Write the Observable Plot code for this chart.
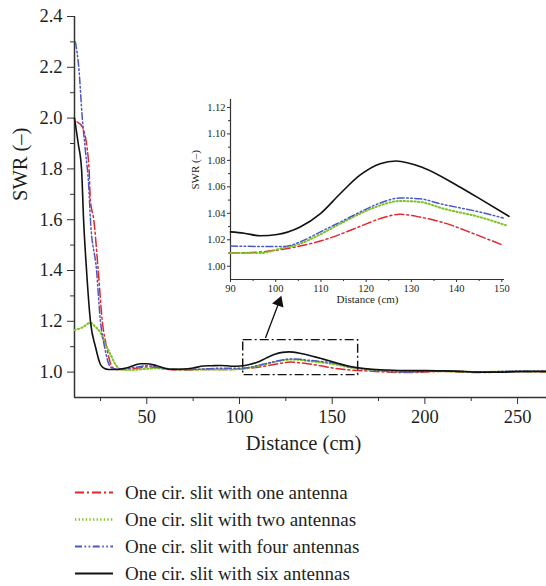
<!DOCTYPE html>
<html><head><meta charset="utf-8">
<script src="https://cdn.jsdelivr.net/npm/d3@7"></script>
<script src="https://cdn.jsdelivr.net/npm/@observablehq/plot@0.6"></script>
<style>
body{margin:0;background:#fff;font-family:"Liberation Serif","Times New Roman","DejaVu Serif",serif;}
#wrap{position:relative;width:546px;height:586px;overflow:hidden;}
#main{position:absolute;left:0;top:0;}
#inset{position:absolute;left:175px;top:90px;}
#legend{position:absolute;left:0;top:479px;}
.row{height:27px;display:flex;align-items:center;font-size:19px;color:#231f20;white-space:nowrap;}
.row svg{flex:none;}
svg text{font-family:"Liberation Serif","Times New Roman","DejaVu Serif",serif;}
</style></head><body>
<div id="wrap"><div id="main"></div><div id="inset"></div><div id="legend"></div></div>
<script>
// ---- data ----
const seriesNames = ["One cir. slit with one antenna","One cir. slit with two antennas","One cir. slit with four antennas","One cir. slit with six antennas"];

const oneX = [12.4,15.2,18.7,19.6,21.4,23.8,26,28.3,31.3,34,40,45,50,55,60,70,80,90,96.6,101,105.4,109.9,114.3,118.7,123.1,127.5,131.9,137.8,143.7,150.3,160,170,180,190,200,210,220,230,240,250,265];
const oneY = [1.985,1.965,1.82,1.675,1.6,1.4,1.2,1.1,1.02,1.01,1.012,1.015,1.02,1.018,1.012,1.008,1.01,1.010,1.0108,1.0126,1.0153,1.0191,1.0242,1.0302,1.036,1.0393,1.0372,1.0322,1.0247,1.0159,1.008,1.004,1.0,0.998,1.0,1.003,1.0,0.998,1.0,1.002,1.0];

const twoX = [11,15,19.6,22,25,27.7,30.4,33.1,35.8,40,45,50,55,60,70,80,90,96.6,101,105.4,109.9,114.3,118.7,123.1,127.5,131.9,137,145.1,150.9,160,170,180,190,200,210,220,230,240,250,265];
const twoY = [1.166,1.175,1.194,1.18,1.155,1.11,1.07,1.03,1.011,1.008,1.01,1.013,1.015,1.013,1.01,1.01,1.010,1.010,1.0133,1.017,1.0242,1.0322,1.0398,1.046,1.0493,1.0486,1.0436,1.0372,1.031,1.018,1.01,1.004,1.002,1.004,1.003,1.002,1.0,1.002,1.003,1.002];

const fourX = [11.5,13.3,15.2,16.9,18.7,19.6,22.9,25,27.2,30.4,34,40,45,50,55,60,70,80,90,96.6,101.8,105.4,109.9,114.3,118.7,123.1,127.5,131.9,136.3,145.1,150.3,160,170,180,190,200,210,220,230,240,250,265];
const fourY = [2.30,2.2,2.0,1.87,1.73,1.6,1.4,1.2,1.1,1.02,1.012,1.015,1.02,1.025,1.02,1.015,1.01,1.012,1.0153,1.015,1.015,1.0184,1.026,1.0334,1.041,1.0478,1.0516,1.051,1.0473,1.041,1.0365,1.02,1.01,1.003,1.0,1.003,1.005,1.002,1.0,1.002,1.004,1.003];

const sixX = [11,13,14.8,15.9,17.5,19.6,22.3,25,27,29.3,32,36,40,46.6,50,55,62.8,70,75,80.6,85,90,93,96.6,100.3,105.4,109.9,114.3,118.7,123.1,126.6,132.6,140.7,145.1,151.6,158,165,170,180,190,200,210,220,230,240,250,265];
const sixY = [2.0,1.9,1.8,1.6,1.4,1.2,1.1,1.03,1.015,1.01,1.01,1.012,1.018,1.033,1.033,1.026,1.011,1.012,1.016,1.024,1.025,1.026,1.025,1.023,1.024,1.0297,1.0398,1.055,1.069,1.0775,1.0795,1.0745,1.0599,1.0511,1.0377,1.025,1.016,1.012,1.008,1.006,1.006,1.005,1.003,1.0,1.0,1.002,1.003];

const xMajor = [50,100,150,200,250];
const xMinor = [25,75,125,175,225];
const yMajor = [1.0,1.2,1.4,1.6,1.8,2.0,2.2,2.4];
const yMinor = [1.1,1.3,1.5,1.7,1.9,2.1,2.3];

const insetXMajor = [90,100,110,120,130,140,150];
const insetXMinor = [95,105,115,125,135,145];
const insetYMajor = [1.00,1.02,1.04,1.06,1.08,1.10,1.12];
const insetYMinor = [1.01,1.03,1.05,1.07,1.09,1.11];

// annotation: zoom box and arrow (data coordinates)
const zoomBox = [{x1:102, x2:164, y1:0.988, y2:1.126}];
const arrowLink = [{x1:114, y1:1.134, x2:121.3, y2:1.275}];

// ---- styles ----
const FONT = "'Liberation Serif', 'Times New Roman', 'DejaVu Serif', serif";
const styles = [
  {color:"#e3262b", dash:"9,3,2,3", width:1.5},
  {color:"#7cc41f", dash:"1.3,2.3", width:2},
  {color:"#4b57c6", dash:"7,2.5,1.6,2.5,1.6,2.5", width:1.5},
  {color:"#111111", dash:null, width:1.6}
];

const seriesData = [[oneX,oneY],[twoX,twoY],[fourX,fourY],[sixX,sixY]].map(([xs,ys],i)=>
  xs.map((x,j)=>({x, y:ys[j], s:seriesNames[i]})));

function lineMarks(filter){
  return seriesData.map((d,i)=>Plot.line(d.filter(filter), {
    x:"x", y:"y", stroke:styles[i].color, strokeWidth:styles[i].width,
    strokeDasharray:styles[i].dash || undefined, curve:"monotone-x"
  }));
}

const axisColor = "#333";
const main = Plot.plot({
  width:546, height:470,
  marginLeft:74, marginRight:0, marginTop:16, marginBottom:73,
  style:{fontFamily:FONT, fontSize:"18px", color:"#231f20", background:"transparent", overflow:"visible"},
  x:{domain:[11,265.6]},
  y:{domain:[0.9,2.4]},
  marks:[
    Plot.axisX(xMajor, {tickSize:7, tickPadding:5, label:null, fontSize:18.5, fontFamily:FONT, stroke:axisColor}),
    Plot.axisX(xMinor, {tickSize:4, tickFormat:()=>"", label:null, stroke:axisColor}),
    Plot.axisY(yMajor, {tickSize:7, tickPadding:5, tickFormat:d3.format(".1f"), label:null, fontSize:18.5, fontFamily:FONT, stroke:axisColor}),
    Plot.axisY(yMinor, {tickSize:4, tickFormat:()=>"", label:null, stroke:axisColor}),
    Plot.ruleX([11], {stroke:axisColor, strokeWidth:1.5}),
    Plot.ruleY([0.9], {stroke:axisColor, strokeWidth:1.5}),
    ...lineMarks(()=>true),
    Plot.rect(zoomBox, {x1:"x1", x2:"x2", y1:"y1", y2:"y2", fill:"none", stroke:"#111", strokeWidth:1.4, strokeDasharray:"9,3,2,3"}),
    Plot.link(arrowLink, {x1:"x1", y1:"y1", x2:"x2", y2:"y2", stroke:"#111", strokeWidth:1.3}),
    Plot.dot(arrowLink, {x:"x2", y:"y2", symbol:"triangle", r:4.5, fill:"#111", stroke:"none", rotate:20}),
    Plot.text(["Distance (cm)"], {text:d=>d, frameAnchor:"bottom", dy:52, dx:-7, fontSize:20.5, fontFamily:FONT}),
    Plot.text(["SWR (–)"], {text:d=>d, frameAnchor:"left", dx:-54, dy:-6, rotate:-90, fontSize:20.5, fontFamily:FONT})
  ]
});
document.getElementById("main").appendChild(main);

const inset = Plot.plot({
  width:340, height:220,
  marginLeft:55, marginRight:11, marginTop:9, marginBottom:31,
  style:{fontFamily:FONT, fontSize:"10px", color:"#231f20", background:"transparent", overflow:"visible"},
  x:{domain:[90,150.6]},
  y:{domain:[0.99,1.126]},
  marks:[
    Plot.axisX(insetXMajor, {tickSize:3, tickPadding:2, label:null, fontSize:10.5, fontFamily:FONT, stroke:axisColor}),
    Plot.axisX(insetXMinor, {tickSize:2, tickFormat:()=>"", label:null, stroke:axisColor}),
    Plot.axisY(insetYMajor, {tickSize:3, tickPadding:2, tickFormat:d3.format(".2f"), label:null, fontSize:10.5, fontFamily:FONT, stroke:axisColor}),
    Plot.axisY(insetYMinor, {tickSize:2, tickFormat:()=>"", label:null, stroke:axisColor}),
    Plot.ruleX([90], {stroke:axisColor, strokeWidth:1.2}),
    Plot.ruleY([0.99], {stroke:axisColor, strokeWidth:1.2}),
    ...lineMarks(d=>d.x>=89 && d.x<=152),
    Plot.text(["Distance (cm)"], {text:d=>d, frameAnchor:"bottom", dy:23, fontSize:11, fontFamily:FONT}),
    Plot.text(["SWR (–)"], {text:d=>d, frameAnchor:"left", dx:-35, rotate:-90, fontSize:11, fontFamily:FONT})
  ]
});
document.getElementById("inset").appendChild(inset);

// ---- legend ----
const legend = document.getElementById("legend");
seriesNames.forEach((name,i)=>{
  const row = document.createElement("div");
  row.className = "row";
  const st = styles[i];
  row.innerHTML = `<svg width="125" height="27"><line x1="75" x2="113" y1="13.5" y2="13.5" stroke="${st.color}" stroke-width="${st.width+0.3}" ${st.dash?`stroke-dasharray="${st.dash}"`:""}/></svg><span>${name}</span>`;
  legend.appendChild(row);
});
</script>
</body></html>
